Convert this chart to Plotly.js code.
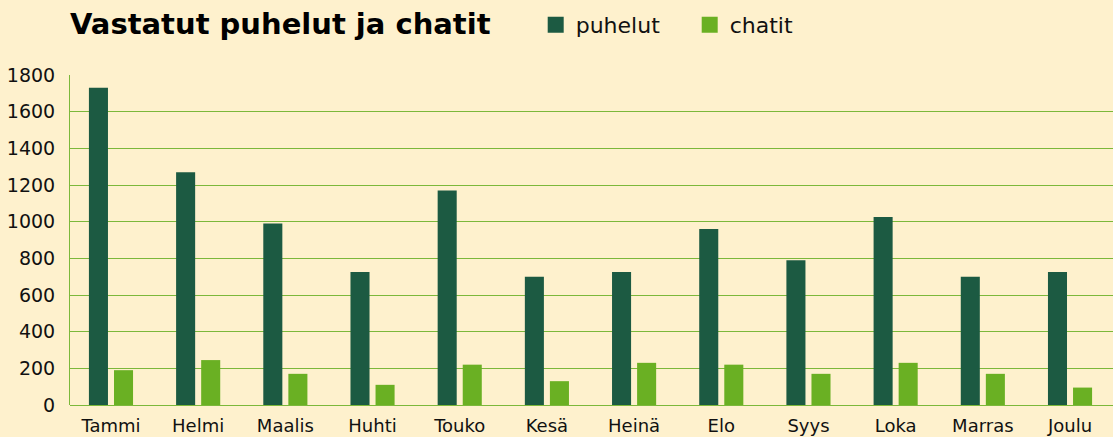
<!DOCTYPE html>
<html>
<head>
<meta charset="utf-8">
<script src="https://cdn.plot.ly/plotly-3.0.1.min.js"></script>
<style>html,body{margin:0;padding:0;background:#fef1cd;}#chart{width:1113px;height:437px;}</style>
</head>
<body>
<div id="chart"></div>
<script>
const months = ["Tammi","Helmi","Maalis","Huhti","Touko","Kesä","Heinä","Elo","Syys","Loka","Marras","Joulu"];
const puhelut = [1730,1270,990,725,1170,700,725,960,790,1025,700,725];
const chatit = [190,245,170,110,220,130,230,220,170,230,170,95];
const yTicks = [0,200,400,600,800,1000,1200,1400,1600,1800];

const darkGreen = "#1c5a42";
const lightGreen = "#6ab023";
const gridGreen = "#7cb83a";
const bg = "#fef1cd";
const fontFam = "'DejaVu Sans', sans-serif";

const traces = [
  {type:"bar", name:"puhelut", x:months, y:puhelut, marker:{color:darkGreen}, showlegend:false, legendgroup:"p", hoverinfo:"x+y"},
  {type:"bar", name:"chatit", x:months, y:chatit, marker:{color:lightGreen}, showlegend:false, legendgroup:"c", hoverinfo:"x+y"},
  {type:"scatter", mode:"markers", name:"puhelut", x:[null], y:[null], legendgroup:"p", marker:{symbol:"square", size:21, color:darkGreen}},
  {type:"scatter", mode:"markers", name:"chatit", x:[null], y:[null], legendgroup:"c", marker:{symbol:"square", size:21, color:lightGreen}}
];

const layout = {
  width:1113, height:437,
  paper_bgcolor:bg, plot_bgcolor:bg,
  margin:{l:70, r:0, t:75, b:32},
  font:{family:fontFam, color:"#111", size:18},
  title:{text:"Vastatut puhelut ja chatit", font:{family:fontFam, size:29, weight:"bold", color:"#000"},
         x:0, xref:"paper", xanchor:"left", y:1-24/437, yref:"container", yanchor:"middle"},
  barmode:"group", bargap:0.425, bargroupgap:0.24,
  showlegend:true,
  legend:{orientation:"h", x:0.4465, xref:"paper", xanchor:"left", y:1-25/437, yref:"container", yanchor:"middle",
          font:{size:22, family:fontFam, color:"#111"}, bgcolor:"rgba(0,0,0,0)",
          entrywidth:109, entrywidthmode:"pixels", traceorder:"normal"},
  xaxis:{type:"category", range:[-0.47, 11.493], tickfont:{size:18}, showgrid:false, showline:false, ticks:"", ticklabelstandoff:8, fixedrange:true},
  yaxis:{range:[0,1800], tickvals:yTicks, ticktext:yTicks.map(String), tickfont:{size:19},
         showgrid:true, gridcolor:gridGreen, gridwidth:1, zeroline:true, zerolinecolor:gridGreen, zerolinewidth:1,
         showline:true, linecolor:gridGreen, linewidth:1, ticks:"", ticklabelstandoff:10, fixedrange:true}
};

Plotly.newPlot("chart", traces, layout, {displayModeBar:false, staticPlot:true});
</script>
</body>
</html>
